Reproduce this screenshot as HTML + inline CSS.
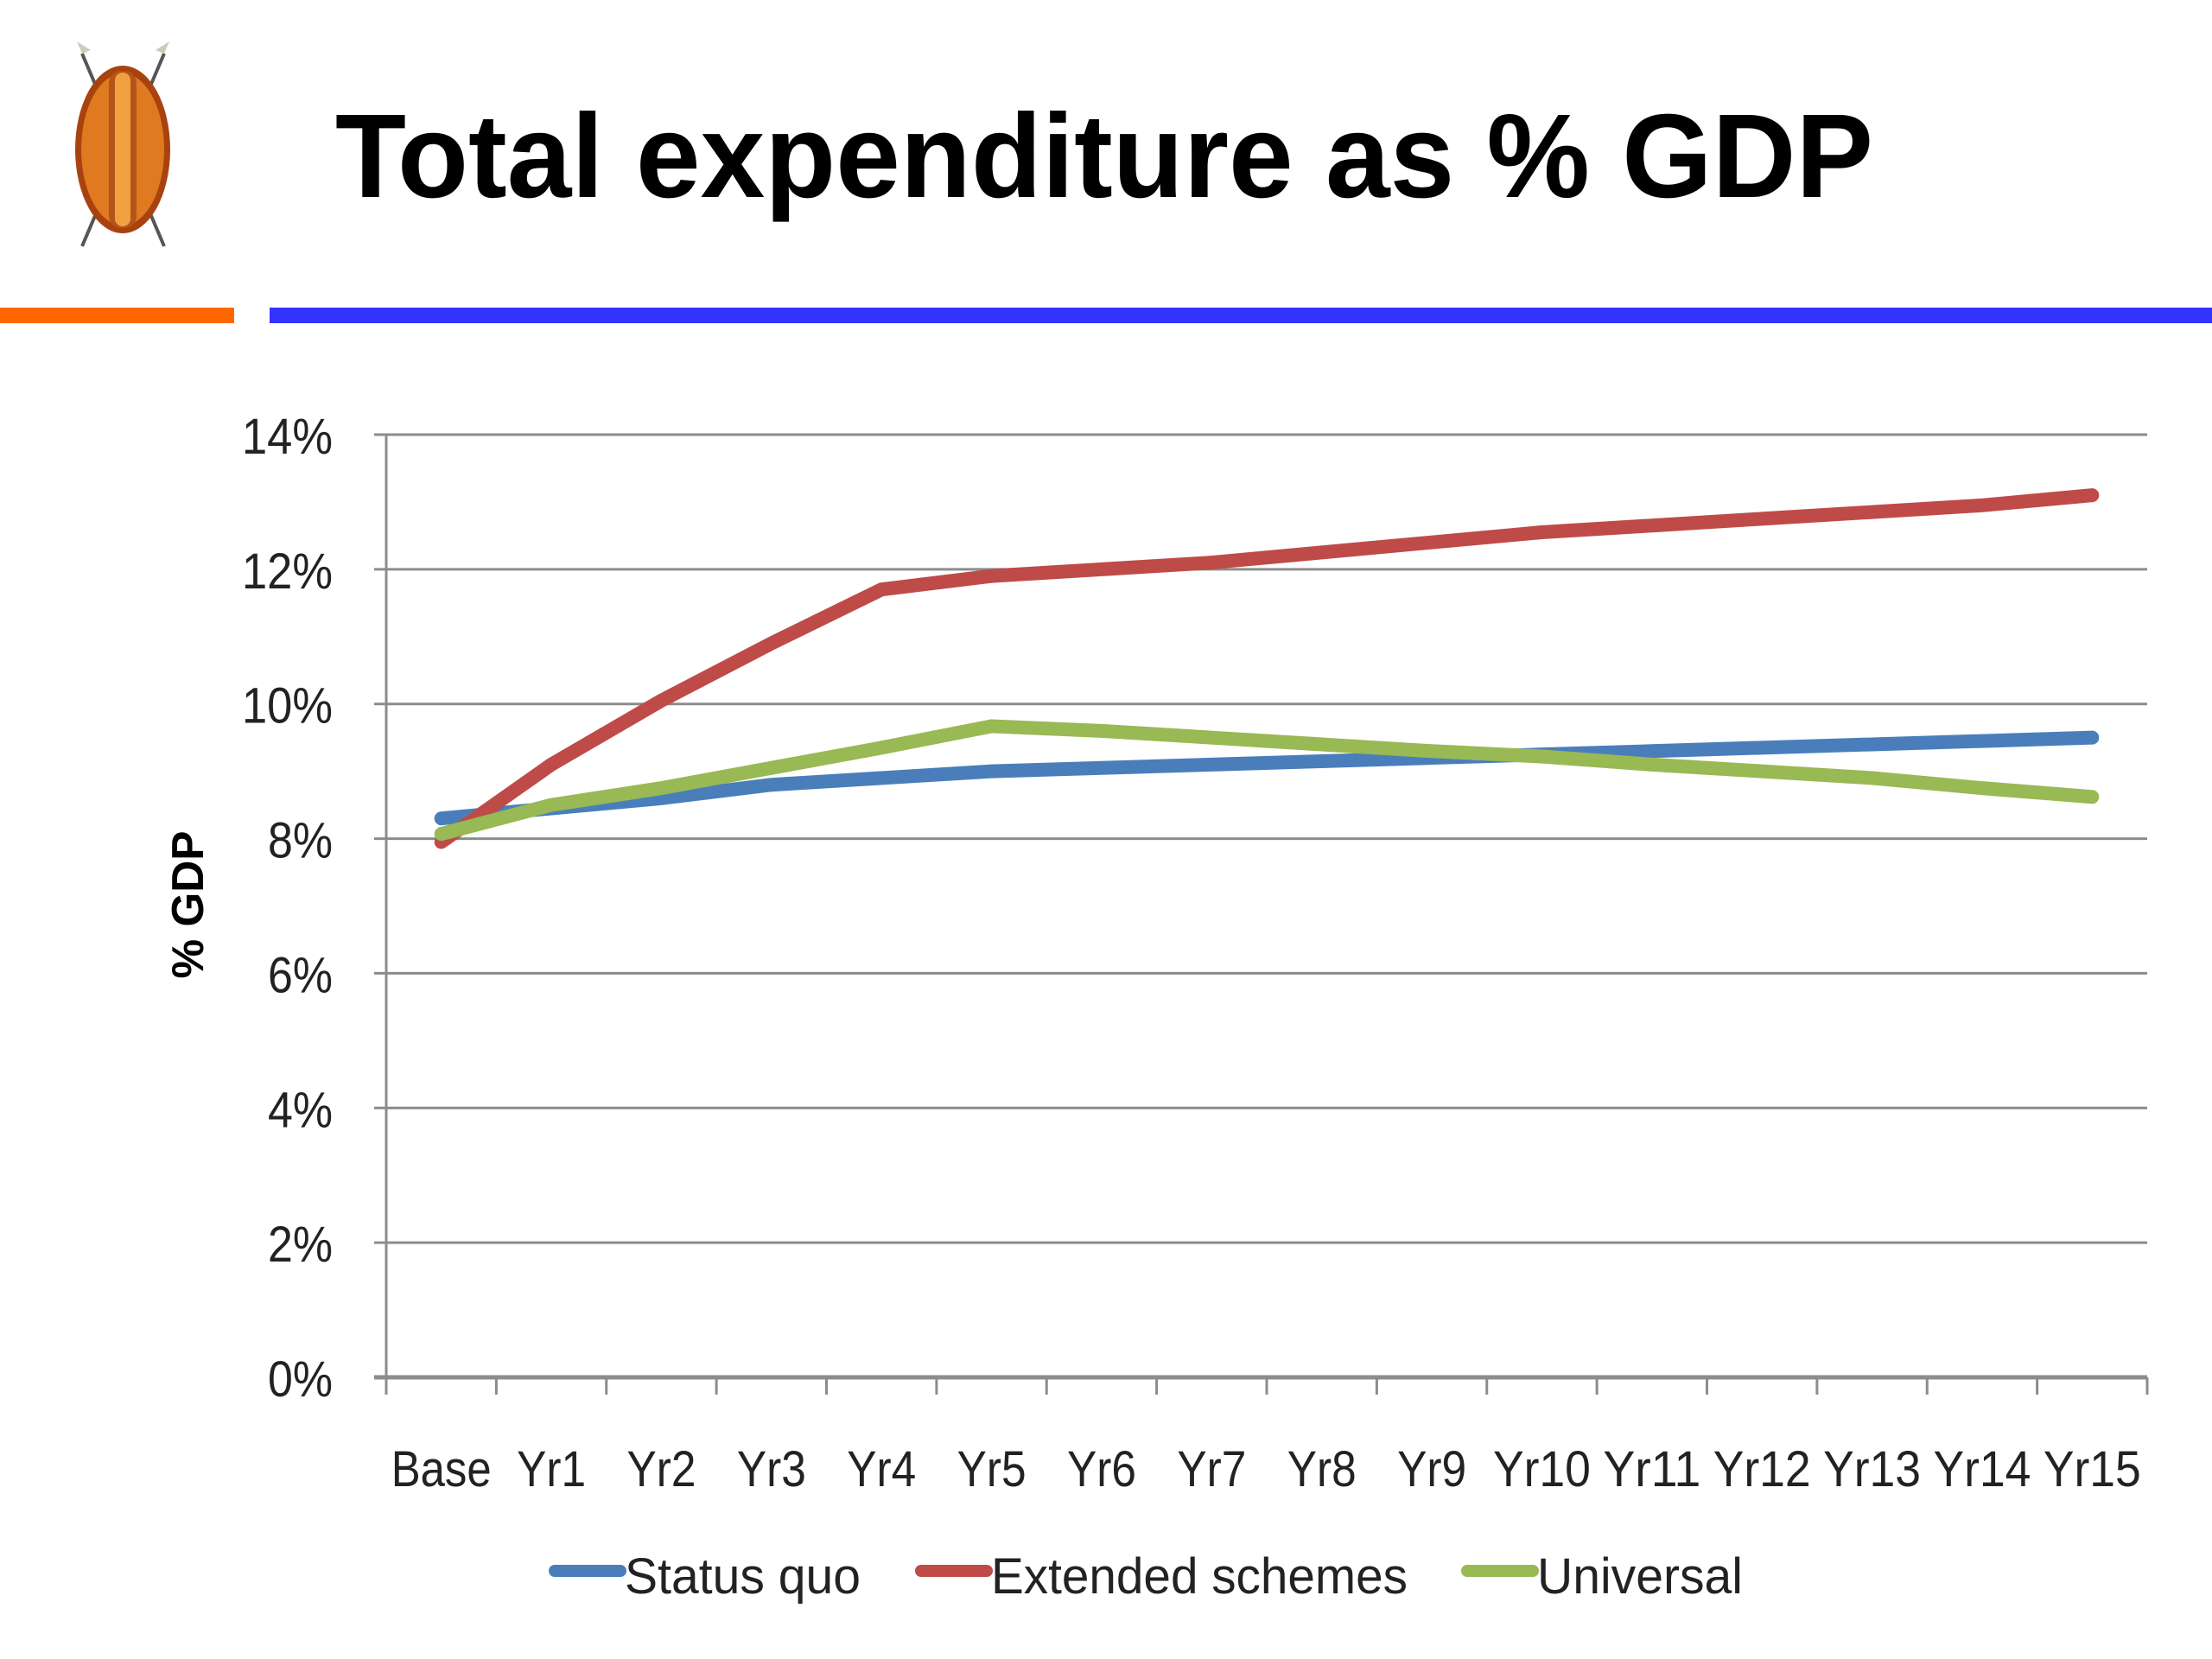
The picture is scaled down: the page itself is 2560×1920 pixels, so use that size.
<!DOCTYPE html>
<html><head><meta charset="utf-8"><style>
html,body{margin:0;padding:0;background:#fff;}
svg{display:block;}
text{font-family:"Liberation Sans",sans-serif;}
</style></head><body>
<svg id="chart" width="2560" height="1920" viewBox="0 0 2560 1920">
  <g>
    <line x1="95" y1="62" x2="190" y2="285" stroke="#555" stroke-width="4"/>
    <line x1="190" y1="62" x2="95" y2="285" stroke="#555" stroke-width="4"/>
    <path d="M95 62 l-6 -14 l16 10 z" fill="#ccb"/>
    <path d="M190 62 l6 -14 l-16 10 z" fill="#ccb"/>
    <ellipse cx="142" cy="173" rx="55" ry="97" fill="#a84310"/>
    <ellipse cx="142" cy="173" rx="48" ry="88" fill="#e07a20"/>
    <rect x="126" y="82" width="32" height="182" rx="14" fill="#b5541a"/>
    <rect x="133" y="84" width="18" height="178" rx="9" fill="#f0a040"/>
  </g>
  <text x="388" y="228" font-size="138" font-weight="bold" textLength="1780" lengthAdjust="spacingAndGlyphs">Total expenditure as % GDP</text>
  <rect x="0" y="356" width="271" height="18" fill="#ff6600"/>
  <rect x="312" y="356" width="2248" height="18" fill="#3333ff"/>
  <g id="grid"></g>
  <g id="axes"></g>
  <g id="series"></g>
  <text transform="translate(235,1047) rotate(-90)" text-anchor="middle" font-size="52" font-weight="bold" textLength="171" lengthAdjust="spacingAndGlyphs">% GDP</text>
  <g id="legend"></g>
</svg>
<script>
const categories = ["Base","Yr1","Yr2","Yr3","Yr4","Yr5","Yr6","Yr7","Yr8","Yr9","Yr10","Yr11","Yr12","Yr13","Yr14","Yr15"];
const statusQuo = [8.3,8.45,8.6,8.8,8.9,9.0,9.05,9.1,9.15,9.2,9.25,9.3,9.35,9.4,9.45,9.5];
const extended = [7.95,9.1,10.05,10.9,11.7,11.9,12.0,12.1,12.25,12.4,12.55,12.65,12.75,12.85,12.95,13.1];
const universal = [8.07,8.5,8.75,9.05,9.35,9.67,9.6,9.5,9.4,9.3,9.22,9.1,9.0,8.9,8.75,8.62];
const yTicks = [0,2,4,6,8,10,12,14];
const seriesNames = ["Status quo","Extended schemes","Universal"];

const NS="http://www.w3.org/2000/svg";
const L=447,R=2485,T=503,B=1594,YMAX=14;
const step=(R-L)/categories.length;
const xs=i=>L+step*(i+0.5);
const ys=v=>B-(v/YMAX)*(B-T);
function mk(tag,attrs,parent){const e=document.createElementNS(NS,tag);for(const k in attrs)e.setAttribute(k,attrs[k]);parent.appendChild(e);return e;}
const grid=document.getElementById('grid'),axes=document.getElementById('axes'),ser=document.getElementById('series'),leg=document.getElementById('legend');

yTicks.forEach(t=>{
  const y=ys(t);
  const g=mk('line',{x1:L-14,x2:R,y1:y,y2:y,stroke:'#8c8c8c','stroke-width':t===0?5:3},grid);
  
  
  const lbl=t+'%';
  const tx=mk('text',{x:385,y:y+22,'text-anchor':'end','font-size':58,fill:'#222',textLength:lbl.length===3?105:75,lengthAdjust:'spacingAndGlyphs'},axes);
  tx.textContent=lbl;
  
  
});
const ya=mk('line',{x1:L,x2:L,y1:T,y2:B,stroke:'#8c8c8c','stroke-width':3},axes);


for(let i=0;i<=categories.length;i++){
  const x=L+step*i;
  const tk=mk('line',{x1:x,x2:x,y1:B,y2:B+20,stroke:'#8c8c8c','stroke-width':3},axes);
  
  
}
categories.forEach((c,i)=>{
  const w=c==='Base'?116:(c.length===3?80:113);
  const tx=mk('text',{x:xs(i),y:1720,'text-anchor':'middle','font-size':58,fill:'#222',textLength:w,lengthAdjust:'spacingAndGlyphs'},axes);
  tx.textContent=c;
  
  
});
const data=[statusQuo,extended,universal];
const colors=['#4a7ebb','#be4b48','#98b954'];
const sNames=['status-quo-line','extended-schemes-line','universal-line'];
data.forEach((d,s)=>{
  const p=mk('polyline',{points:d.map((v,i)=>xs(i)+','+ys(v)).join(' '),fill:'none',stroke:colors[s],'stroke-width':16,'stroke-linejoin':'round','stroke-linecap':'round'},ser);
  
  
});
const legX=[642,1066,1698], legW=[273,482,238];
seriesNames.forEach((n,s)=>{
  const g=mk('g',{},leg);
  
  
  mk('line',{x1:legX[s],x2:legX[s]+76,y1:1818,y2:1818,stroke:colors[s],'stroke-width':14,'stroke-linecap':'round'},g);
  const t=mk('text',{x:legX[s]+81,y:1844,'font-size':58,fill:'#222',textLength:legW[s],lengthAdjust:'spacingAndGlyphs'},g);
  t.textContent=n;
});
</script>
</body></html>
